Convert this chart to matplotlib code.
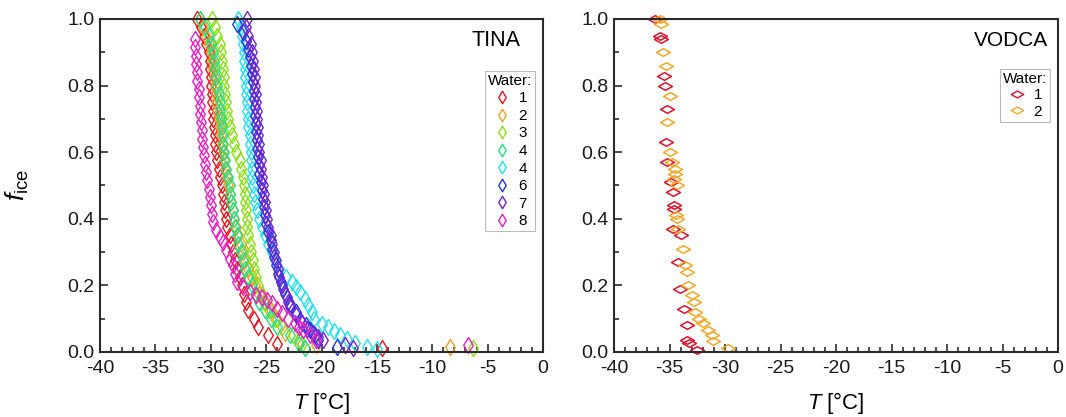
import matplotlib
matplotlib.use('Agg')
import matplotlib.pyplot as plt
from matplotlib.path import Path
from matplotlib.lines import Line2D
from matplotlib.ticker import MultipleLocator

plt.rcParams['font.family'] = ['Liberation Sans', 'DejaVu Sans']
plt.rcParams['mathtext.fontset'] = 'custom'
plt.rcParams['mathtext.rm'] = 'Liberation Sans'
plt.rcParams['mathtext.it'] = 'Liberation Sans:italic'
plt.rcParams['axes.unicode_minus'] = False

# ---- TINA data (temperature in degC, frozen fraction) ----
tina_labels = ['1', '2', '3', '4', '4', '6', '7', '8']
tina_colors = ['#e8141e', '#f0a020', '#88e010', '#22e080', '#22e0f0', '#2038e0', '#7422d2', '#e61ec4']

t1 = [-31.2, -30.9, -30.6, -30.4, -30.2, -30.1, -30.1, -30.0, -30.0, -29.9, -29.9, -29.8, -29.8, -29.7,
      -29.6, -29.6, -29.5, -29.4, -29.3, -29.2, -29.0, -28.9, -28.8, -28.7, -28.6, -28.5, -28.3, -28.2,
      -28.0, -27.8, -27.6, -27.4, -27.2, -27.0, -26.8, -26.6, -26.1, -25.7, -24.8, -24.0, -14.5]
f1 = [1.0, 0.975, 0.95, 0.925, 0.9, 0.875, 0.85, 0.825, 0.8, 0.775, 0.75, 0.725, 0.7, 0.675,
      0.65, 0.625, 0.6, 0.575, 0.55, 0.525, 0.5, 0.475, 0.45, 0.425, 0.4, 0.375, 0.35, 0.325,
      0.3, 0.275, 0.25, 0.225, 0.2, 0.175, 0.15, 0.125, 0.1, 0.075, 0.05, 0.025, 0.012]

t2 = [-31.0, -30.7, -30.4, -30.2, -30.0, -29.9, -29.8, -29.7, -29.6, -29.5, -29.5, -29.4, -29.3, -29.2,
      -29.1, -29.0, -28.9, -28.8, -28.7, -28.5, -28.4, -28.3, -28.2, -28.0, -27.9, -27.7, -27.5, -27.3,
      -27.1, -26.9, -26.6, -26.3, -26.0, -25.6, -25.2, -24.6, -24.0, -23.3, -22.0, -20.5, -8.4]
f2 = [1.0, 0.975, 0.95, 0.925, 0.9, 0.875, 0.85, 0.825, 0.8, 0.775, 0.75, 0.725, 0.7, 0.675,
      0.65, 0.625, 0.6, 0.575, 0.55, 0.525, 0.5, 0.475, 0.45, 0.425, 0.4, 0.375, 0.35, 0.325,
      0.3, 0.275, 0.25, 0.225, 0.2, 0.175, 0.15, 0.125, 0.1, 0.057, 0.035, 0.02, 0.015]

t3 = [-29.9, -29.6, -29.4, -29.2, -29.1, -29.0, -28.9, -28.8, -28.8, -28.7, -28.6, -28.5, -28.4, -28.3,
      -28.1, -27.9, -27.7, -27.4, -27.3, -27.1, -27.0, -26.9, -26.9, -26.8, -26.7, -26.7, -26.6, -26.5,
      -26.4, -26.2, -26.1, -25.9, -25.7, -25.4, -25.1, -24.7, -24.2, -23.6, -22.6, -21.8, -6.3]
f3 = [1.0, 0.975, 0.95, 0.925, 0.9, 0.875, 0.85, 0.825, 0.8, 0.775, 0.75, 0.725, 0.7, 0.675,
      0.65, 0.625, 0.6, 0.575, 0.55, 0.525, 0.5, 0.475, 0.45, 0.425, 0.4, 0.375, 0.35, 0.325,
      0.3, 0.275, 0.25, 0.225, 0.2, 0.175, 0.15, 0.125, 0.1, 0.075, 0.05, 0.025, 0.012]

t4 = [-31.0, -30.5, -30.2, -30.0, -29.8, -29.7, -29.6, -29.5, -29.4, -29.3, -29.2, -29.2, -29.1, -29.0,
      -28.9, -28.9, -28.8, -28.7, -28.6, -28.4, -28.3, -28.3, -28.2, -28.0, -27.9, -27.8, -27.6, -27.5,
      -27.3, -27.1, -26.9, -26.6, -26.3, -26.0, -25.6, -25.1, -24.6, -24.0, -22.8, -22.0, -21.5]
f4 = [1.0, 0.975, 0.95, 0.925, 0.9, 0.875, 0.85, 0.825, 0.8, 0.775, 0.75, 0.725, 0.7, 0.675,
      0.65, 0.625, 0.6, 0.575, 0.55, 0.525, 0.5, 0.475, 0.45, 0.425, 0.4, 0.375, 0.35, 0.325,
      0.3, 0.275, 0.25, 0.225, 0.2, 0.175, 0.15, 0.125, 0.1, 0.075, 0.05, 0.025, 0.012]

t5 = [-27.5, -27.3, -27.2, -27.1, -27.0, -27.0, -26.9, -26.9, -26.8, -26.8, -26.7, -26.7, -26.6, -26.6,
      -26.5, -26.5, -26.4, -26.4, -26.3, -26.3, -26.2, -26.1, -26.0, -25.8, -25.6, -25.4, -25.1, -24.8,
      -24.5, -24.2, -23.8, -23.2, -22.7, -22.3, -21.9, -21.5, -21.2, -20.9, -20.7, -20.0, -19.4, -18.9,
      -18.3, -17.7, -17.0, -15.9, -15.0]
f5 = [1.0, 0.975, 0.95, 0.925, 0.9, 0.875, 0.85, 0.825, 0.8, 0.775, 0.75, 0.725, 0.7, 0.675,
      0.65, 0.625, 0.6, 0.575, 0.55, 0.525, 0.5, 0.475, 0.45, 0.425, 0.4, 0.375, 0.35, 0.325,
      0.3, 0.275, 0.25, 0.225, 0.21, 0.195, 0.18, 0.16, 0.14, 0.12, 0.1, 0.085, 0.075, 0.062,
      0.05, 0.04, 0.027, 0.016, 0.008]

t6 = [-27.6, -27.1, -26.8, -26.6, -26.5, -26.4, -26.3, -26.2, -26.1, -26.1, -26.0, -26.0, -25.9, -25.9,
      -25.8, -25.8, -25.7, -25.6, -25.6, -25.5, -25.4, -25.3, -25.2, -25.1, -25.0, -24.8, -24.6, -24.5,
      -24.3, -24.1, -23.9, -23.7, -23.5, -23.1, -22.8, -22.3, -21.9, -21.4, -21.0, -20.6, -20.3, -18.6]
f6 = [0.985, 0.96, 0.935, 0.91, 0.885, 0.86, 0.835, 0.81, 0.785, 0.76, 0.735, 0.71, 0.685, 0.66,
      0.635, 0.61, 0.585, 0.56, 0.535, 0.51, 0.485, 0.46, 0.435, 0.41, 0.385, 0.36, 0.335, 0.31,
      0.285, 0.26, 0.235, 0.21, 0.19, 0.165, 0.145, 0.12, 0.096, 0.08, 0.066, 0.05, 0.036, 0.015]

t7 = [-26.7, -26.8, -26.6, -26.4, -26.3, -26.2, -26.1, -26.0, -26.0, -25.9, -25.9, -25.8, -25.8, -25.7,
      -25.7, -25.6, -25.6, -25.5, -25.5, -25.4, -25.3, -25.2, -25.1, -25.0, -24.9, -24.8, -24.6, -24.5,
      -24.3, -24.1, -23.9, -23.8, -23.6, -23.3, -23.0, -22.8, -22.3, -21.8, -21.3, -20.8, -20.3, -19.9,
      -17.9, -17.2]
f7 = [1.0, 0.975, 0.95, 0.925, 0.9, 0.875, 0.85, 0.825, 0.8, 0.775, 0.75, 0.725, 0.7, 0.675,
      0.65, 0.625, 0.6, 0.575, 0.55, 0.525, 0.5, 0.475, 0.45, 0.425, 0.4, 0.375, 0.35, 0.325,
      0.3, 0.275, 0.25, 0.225, 0.2, 0.175, 0.15, 0.135, 0.11, 0.087, 0.07, 0.057, 0.045, 0.036,
      0.021, 0.012]

t8 = [-31.4, -31.4, -31.3, -31.3, -31.2, -31.2, -31.1, -31.1, -31.0, -31.0, -30.9, -30.8, -30.8, -30.7,
      -30.6, -30.5, -30.4, -30.3, -30.2, -30.1, -30.0, -29.9, -29.8, -29.5, -29.2, -28.9, -28.6, -28.3,
      -28.0, -27.8, -27.6, -27.1, -26.5, -25.9, -25.4, -24.9, -24.5, -24.0, -23.6, -23.0, -22.4, -22.0,
      -21.7, -21.0, -20.5, -6.8]
f8 = [0.94, 0.915, 0.89, 0.865, 0.84, 0.815, 0.79, 0.765, 0.74, 0.715, 0.69, 0.665, 0.64, 0.615,
      0.59, 0.565, 0.54, 0.515, 0.49, 0.465, 0.44, 0.415, 0.39, 0.365, 0.345, 0.33, 0.305, 0.28,
      0.26, 0.235, 0.21, 0.195, 0.18, 0.17, 0.166, 0.155, 0.147, 0.13, 0.117, 0.1, 0.087, 0.075,
      0.066, 0.05, 0.035, 0.02]

tina_t = [t1, t2, t3, t4, t5, t6, t7, t8]
tina_f = [f1, f2, f3, f4, f5, f6, f7, f8]

# ---- VODCA data ----
vodca_labels = ['1', '2']
vodca_colors = ['#e0102c', '#f2a828']
v1_t = [-36.3, -35.9, -35.8, -35.5, -35.4, -35.2, -35.3, -35.2, -34.9, -34.7, -34.6, -34.6, -34.7,
        -34.0, -34.2, -34.1, -33.7, -33.4, -33.4, -33.2, -32.5]
v1_f = [1.0, 0.95, 0.94, 0.83, 0.80, 0.73, 0.63, 0.57, 0.51, 0.48, 0.44, 0.43, 0.37,
        0.35, 0.27, 0.19, 0.13, 0.08, 0.036, 0.028, 0.006]
v2_t = [-35.9, -35.8, -35.6, -35.3, -35.0, -35.2, -35.0, -34.8, -34.5, -34.5, -34.6, -34.3, -34.4,
        -34.3, -34.2, -33.8, -33.6, -33.4, -33.3, -33.0, -32.8, -32.7, -32.3, -32.0, -31.5, -31.2,
        -31.1, -29.7]
v2_f = [1.0, 0.985, 0.90, 0.86, 0.77, 0.69, 0.60, 0.57, 0.55, 0.535, 0.52, 0.50, 0.41,
        0.40, 0.37, 0.31, 0.26, 0.24, 0.20, 0.17, 0.15, 0.12, 0.10, 0.087, 0.066, 0.05,
        0.034, 0.012]

tall_diamond = Path([(0, 1), (0.6, 0), (0, -1), (-0.6, 0), (0, 1)],
                    [Path.MOVETO, Path.LINETO, Path.LINETO, Path.LINETO, Path.CLOSEPOLY])
wide_diamond = Path([(1, 0), (0, 0.55), (-1, 0), (0, -0.55), (1, 0)],
                    [Path.MOVETO, Path.LINETO, Path.LINETO, Path.LINETO, Path.CLOSEPOLY])

fig = plt.figure(figsize=(10.66, 4.17), dpi=100)
ax1 = fig.add_axes([0.0938, 0.156, 0.4156, 0.7986])
ax2 = fig.add_axes([0.576, 0.156, 0.4165, 0.7986])


def style_axes(ax):
    ax.set_xlim(-40, 0)
    ax.set_ylim(0, 1)
    ax.xaxis.set_major_locator(MultipleLocator(5))
    ax.xaxis.set_minor_locator(MultipleLocator(1))
    ax.yaxis.set_major_locator(MultipleLocator(0.2))
    ax.yaxis.set_minor_locator(MultipleLocator(0.1))
    ax.set_yticks([0, 0.2, 0.4, 0.6, 0.8, 1.0])
    ax.set_yticklabels(['0.0', '0.2', '0.4', '0.6', '0.8', '1.0'])
    ax.tick_params(which='both', direction='in', top=False, right=False,
                   labelsize=14, colors='#1a1a1a', width=1.1)
    ax.tick_params(axis='x', which='major', length=6, pad=6)
    ax.tick_params(axis='y', which='major', length=6, pad=4)
    ax.tick_params(which='minor', length=3.5)
    for s in ax.spines.values():
        s.set_linewidth(1.5)
        s.set_color('#2a2a2a')
    ax.set_xlabel(r'$T$ [°C]', fontsize=16, labelpad=9)


for t, f, c in zip(tina_t, tina_f, tina_colors):
    ax1.plot(t, f, linestyle='none', marker=tall_diamond, markersize=11.5,
             markerfacecolor='none', markeredgecolor=c, markeredgewidth=1.0, clip_on=False)

for t, f, c in zip([v1_t, v2_t], [v1_f, v2_f], vodca_colors):
    ax2.plot(t, f, linestyle='none', marker=wide_diamond, markersize=10,
             markerfacecolor='none', markeredgecolor=c, markeredgewidth=1.1, clip_on=False)

style_axes(ax1)
style_axes(ax2)
ax1.set_ylabel(r'$f_{\rm ice}$', fontsize=19)
ax1.yaxis.set_label_coords(-0.155, 0.5)

ax1.text(0.95, 0.934, 'TINA', transform=ax1.transAxes, ha='right', va='center', fontsize=15.5)
ax2.text(0.977, 0.934, 'VODCA', transform=ax2.transAxes, ha='right', va='center', fontsize=15)

h1 = [Line2D([], [], linestyle='none', marker=tall_diamond, markersize=9, markerfacecolor='none',
             markeredgecolor=c, markeredgewidth=1.0) for c in tina_colors]
leg1 = ax1.legend(h1, tina_labels, title='Water:', loc='upper right', bbox_to_anchor=(0.982, 0.844),
                  fontsize=11, title_fontsize=11, frameon=True, fancybox=False, borderpad=0.2,
                  labelspacing=0.23, handlelength=1.2, handletextpad=0.5, borderaxespad=0)
h2 = [Line2D([], [], linestyle='none', marker=wide_diamond, markersize=9, markerfacecolor='none',
             markeredgecolor=c, markeredgewidth=1.0) for c in vodca_colors]
leg2 = ax2.legend(h2, vodca_labels, title='Water:', loc='upper right', bbox_to_anchor=(0.982, 0.85),
                  fontsize=11, title_fontsize=11, frameon=True, fancybox=False, borderpad=0.2,
                  labelspacing=0.15, handlelength=1.2, handletextpad=0.5, borderaxespad=0)
for leg in (leg1, leg2):
    leg.get_frame().set_edgecolor('#aaaaaa')
    leg.get_frame().set_linewidth(0.8)
    for txt in leg.get_texts():
        txt.set_ha('right')

fig.savefig('out.png', dpi=100)
